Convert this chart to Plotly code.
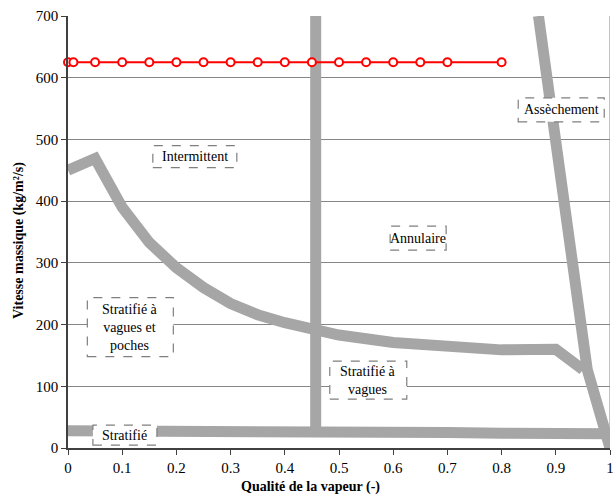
import plotly.graph_objects as go

# Data
red_x = [0, 0.01, 0.05, 0.1, 0.15, 0.2, 0.25, 0.3, 0.35, 0.4, 0.45, 0.5, 0.55, 0.6, 0.65, 0.7, 0.8]
red_y = [625] * len(red_x)

wavy_x = [0, 0.05, 0.1, 0.15, 0.2, 0.25, 0.3, 0.35, 0.4, 0.45, 0.5, 0.6, 0.7, 0.8, 0.9, 0.95]
wavy_y = [450, 469, 390, 333, 292, 260, 234, 216, 203, 193, 183, 171, 163, 159, 160, 127]

vert_x = [0.457, 0.457]
vert_y = [30, 700]

strat_x = [0, 0.1, 0.2, 0.3, 0.4, 0.457, 0.5, 0.6, 0.7, 0.8, 0.9, 1.0]
strat_y = [28, 28, 28, 28, 28, 29, 28, 26, 25, 24, 23, 23]

dry_x = [0.868, 0.884, 0.902, 0.919, 0.935, 0.950, 0.958, 1.0]
dry_y = [700, 600, 500, 400, 300, 191, 127, 0]

labels = ["Intermittent", "Annulaire", "Assèchement", "Stratifié à<br>vagues et<br>poches",
          "Stratifié à<br>vagues", "Stratifié"]
label_x = [0.234, 0.646, 0.910, 0.115, 0.554, 0.105]
label_y = [472, 340, 548, 196, 110, 21]
box_w_px = [84, 56, 86, 86, 77, 64]
box_h_px = [22, 24, 24, 59, 38, 20]

x_ticks = [0, 0.1, 0.2, 0.3, 0.4, 0.5, 0.6, 0.7, 0.8, 0.9, 1]
x_ticktext = ["0", "0.1", "0.2", "0.3", "0.4", "0.5", "0.6", "0.7", "0.8", "0.9", "1"]
y_ticks = [0, 100, 200, 300, 400, 500, 600, 700]

GRAY = "#a6a6a6"
LW = 11
SERIF = "Liberation Serif, Times New Roman, serif"

fig = go.Figure()
for xs, ys in [(strat_x, strat_y), (wavy_x, wavy_y), (vert_x, vert_y), (dry_x, dry_y)]:
    fig.add_trace(go.Scatter(x=xs, y=ys, mode="lines",
                             line=dict(color=GRAY, width=LW), showlegend=False))
fig.add_trace(go.Scatter(x=red_x, y=red_y, mode="lines+markers",
                         line=dict(color="#ff0000", width=2),
                         marker=dict(symbol="circle", size=8, color="white",
                                     line=dict(color="#ff0000", width=2)),
                         showlegend=False, cliponaxis=False))

# plot area geometry (body margin removed by post_script)
W, H = 614, 496
ml, mr, mt, mb = 68, 4, 16, 48
pw = W - ml - mr
ph = H - mt - mb
sx = 1.0 / pw
sy = 700.0 / ph

for t, x, y, bw, bh in zip(labels, label_x, label_y, box_w_px, box_h_px):
    fig.add_shape(type="rect", xref="x", yref="y",
                  x0=x - bw * sx / 2, x1=x + bw * sx / 2,
                  y0=y - bh * sy / 2, y1=y + bh * sy / 2,
                  line=dict(color="#7f7f7f", width=1.2, dash="dash"),
                  fillcolor="white", layer="above")
    fig.add_annotation(x=x, y=y, xref="x", yref="y", text=t, showarrow=False,
                       font=dict(family=SERIF, size=14, color="black"),
                       align="center")

# right border
fig.add_shape(type="line", xref="x", yref="y", x0=1, x1=1, y0=0, y1=700,
              line=dict(color="#868686", width=1), layer="below")

# axis titles (positions given in page pixels)
fig.add_annotation(xref="paper", yref="paper",
                   x=(310 - ml) / pw, y=-(487 - mt - ph) / ph,
                   text="<b>Qualité de la vapeur (-)</b>", showarrow=False,
                   font=dict(family=SERIF, size=14, color="black"),
                   xanchor="center", yanchor="middle")
fig.add_annotation(xref="paper", yref="paper",
                   x=-(ml - 19) / pw, y=(H - mb - 241) / ph,
                   text="<b>Vitesse massique (kg/m²/s)</b>", showarrow=False, textangle=-90,
                   font=dict(family=SERIF, size=14, color="black"),
                   xanchor="center", yanchor="middle")

fig.update_layout(
    width=W, height=H,
    margin=dict(l=ml, r=mr, t=mt, b=mb, autoexpand=False),
    plot_bgcolor="white", paper_bgcolor="white",
    font=dict(family=SERIF, size=15, color="black"),
)
fig.update_xaxes(range=[0, 1], tickvals=x_ticks, ticktext=x_ticktext, automargin=False,
                 ticklabeloverflow="allow",
                 showgrid=False, zeroline=False, showline=True,
                 linecolor="#404040", linewidth=1.5,
                 ticks="outside", ticklen=5, tickcolor="#404040")
fig.update_yaxes(range=[0, 700], tickvals=y_ticks, automargin=False,
                 showgrid=True, gridcolor="#868686", gridwidth=1,
                 zeroline=False, showline=True,
                 linecolor="#404040", linewidth=1.5,
                 ticks="outside", ticklen=5, tickcolor="#404040")

fig.write_html("out.html",
               config={"displayModeBar": False},
               post_script="document.documentElement.style.margin='0';"
                           "document.body.style.margin='0';"
                           "document.documentElement.style.overflow='hidden';"
                           "document.body.style.overflow='hidden';")
